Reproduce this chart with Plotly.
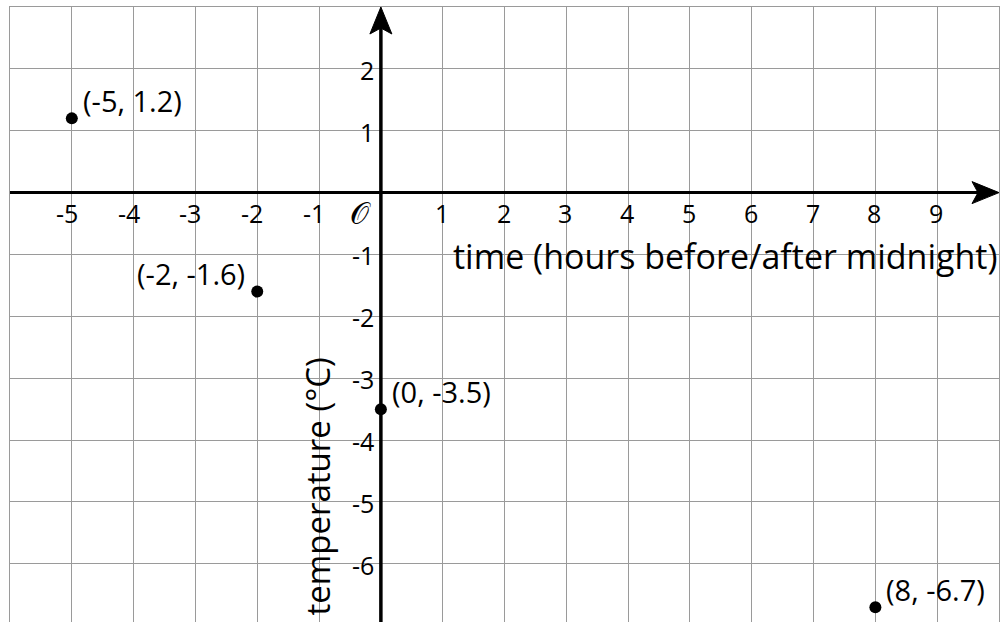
import plotly.graph_objects as go

# Temperature readings around midnight
hours = [-5, -2, 0, 8]
temps = [1.2, -1.6, -3.5, -6.7]
label_side = ["right", "left", "right", "right"]

x_ticks = [-5, -4, -3, -2, -1, 1, 2, 3, 4, 5, 6, 7, 8, 9]
y_ticks = [2, 1, -1, -2, -3, -4, -5, -6]

X_RANGE = [-6, 10]
Y_RANGE = [-6.94, 3]

FONT = "Open Sans"
GRID = "#9a9a9a"

fig = go.Figure()

fig.add_trace(go.Scatter(
    x=hours, y=temps, mode="markers",
    marker=dict(color="black", size=12),
    hoverinfo="skip", showlegend=False,
))

annotations = []

# point labels
for h, t, side in zip(hours, temps, label_side):
    annotations.append(dict(
        x=h, y=t, xref="x", yref="y", text=f"({h}, {t})", showarrow=False,
        xanchor="left" if side == "right" else "right",
        yanchor="middle",
        xshift=9 if side == "right" else -10, yshift=18,
        font=dict(family=FONT, size=29, color="black"),
    ))

# x tick labels under the horizontal axis
for v in x_ticks:
    annotations.append(dict(
        x=v, y=0, xref="x", yref="y", text=str(v), showarrow=False,
        xanchor="center", yanchor="middle",
        xshift=-5 if v < 0 else -1, yshift=-20,
        font=dict(family=FONT, size=25, color="black"),
    ))

# y tick labels left of the vertical axis
for v in y_ticks:
    annotations.append(dict(
        x=0, y=v, xref="x", yref="y", text=str(v), showarrow=False,
        xanchor="right", yanchor="middle",
        xshift=-5, yshift=-1,
        font=dict(family=FONT, size=25, color="black"),
    ))

# origin mark
annotations.append(dict(
    x=0, y=0, xref="x", yref="y", text="𝒪", showarrow=False,
    xanchor="center", yanchor="middle", xshift=-20, yshift=-21,
    font=dict(family="DejaVu Sans", size=30, color="black"),
))

# axis titles
annotations.append(dict(
    x=10, y=-1.03, xref="x", yref="y",
    text="time (hours before/after midnight)", showarrow=False,
    xanchor="right", yanchor="middle", xshift=0,
    font=dict(family=FONT, size=34, color="black"),
))
annotations.append(dict(
    x=-1.03, y=-2.63, xref="x", yref="y",
    text="temperature (°C)", showarrow=False, textangle=-90,
    xanchor="center", yanchor="top",
    font=dict(family=FONT, size=33, color="black"),
))

shapes = [
    # horizontal axis
    dict(type="line", xref="x", yref="y", x0=-6, x1=9.7, y0=0, y1=0,
         line=dict(color="black", width=3)),
    # vertical axis
    dict(type="line", xref="x", yref="y", x0=0, x1=0, y0=-7.2, y1=2.7,
         line=dict(color="black", width=3.5)),
    # arrow heads
    dict(type="path", xref="x", yref="y", xsizemode="pixel", ysizemode="pixel",
         xanchor=10, yanchor=0,
         path="M0,0 L-27,11 L-21,0 L-27,-11 Z",
         fillcolor="black", line=dict(color="black", width=1)),
    dict(type="path", xref="x", yref="y", xsizemode="pixel", ysizemode="pixel",
         xanchor=0, yanchor=3,
         path="M0,0 L-11,-27 L0,-21 L11,-27 Z",
         fillcolor="black", line=dict(color="black", width=1)),
]

fig.update_layout(
    width=1001, height=622,
    margin=dict(l=10, r=2, t=7, b=0),
    paper_bgcolor="white", plot_bgcolor="white",
    xaxis=dict(range=X_RANGE, dtick=1, tick0=0, showgrid=True,
               gridcolor=GRID, gridwidth=1.3, zeroline=False,
               showticklabels=False, ticks="", showline=True,
               linecolor=GRID, linewidth=1.3, mirror=True, fixedrange=True),
    yaxis=dict(range=Y_RANGE, dtick=1, tick0=0, showgrid=True,
               gridcolor=GRID, gridwidth=1.3, zeroline=False,
               showticklabels=False, ticks="", showline=True,
               linecolor=GRID, linewidth=1.3, mirror=True, fixedrange=True),
    annotations=annotations,
    shapes=shapes,
    showlegend=False,
)

fig.write_html("out.html", config={"displayModeBar": False})
